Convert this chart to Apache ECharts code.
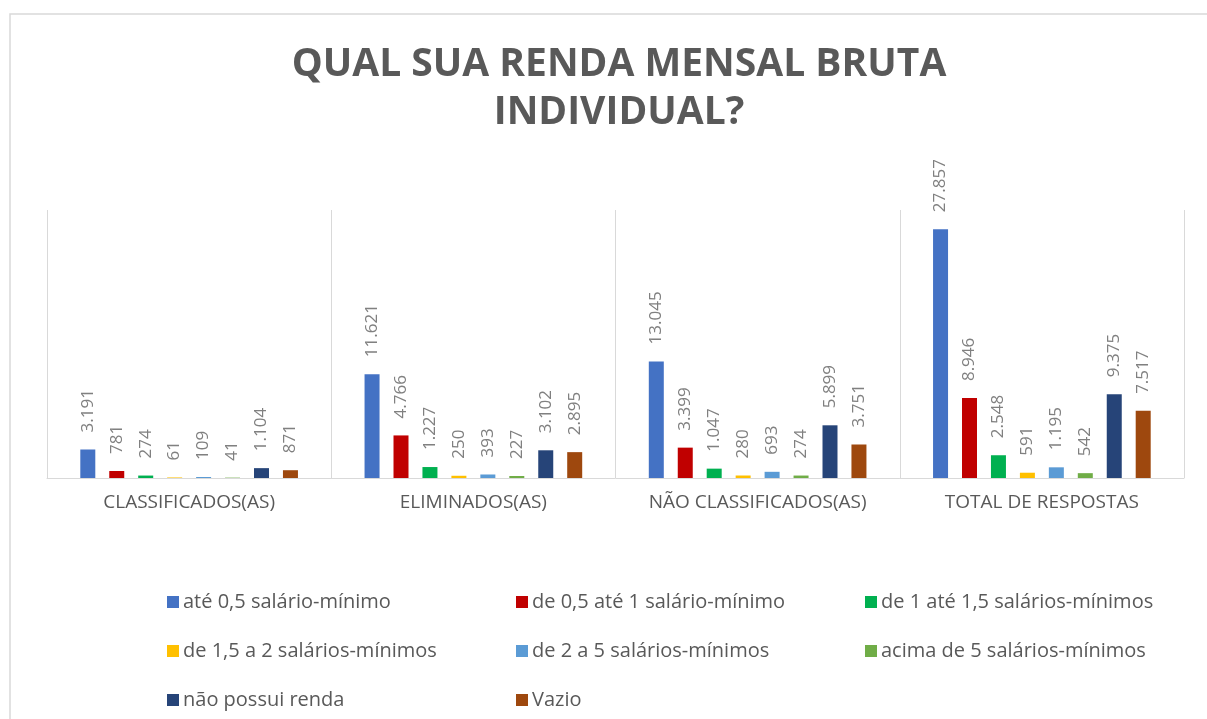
<!DOCTYPE html>
<html lang="pt">
	<head>
		<meta charset="UTF-8" />
		<title>Renda mensal bruta</title>
		<script src="https://cdn.jsdelivr.net/npm/echarts@6.0.0/dist/echarts.min.js"></script>
		<style>
			html, body { margin: 0; padding: 0; background: #fff; }
		</style>
	</head>
	<body>
		<div id="main" style="width: 1207px; height: 719px"></div>
		<script type="text/javascript">
			// categories and values
			const categories = ["CLASSIFICADOS(AS)", "ELIMINADOS(AS)", "NÃO CLASSIFICADOS(AS)", "TOTAL DE RESPOSTAS"];
			const seriesNames = [
				"até 0,5 salário-mínimo",
				"de 0,5 até 1 salário-mínimo",
				"de 1 até 1,5 salários-mínimos",
				"de 1,5 a 2 salários-mínimos",
				"de 2 a 5 salários-mínimos",
				"acima de 5 salários-mínimos",
				"não possui renda",
				"Vazio",
			];
			const ate05 = [3191, 11621, 13045, 27857];
			const de05a1 = [781, 4766, 3399, 8946];
			const de1a15 = [274, 1227, 1047, 2548];
			const de15a2 = [61, 250, 280, 591];
			const de2a5 = [109, 393, 693, 1195];
			const acima5 = [41, 227, 274, 542];
			const semRenda = [1104, 3102, 5899, 9375];
			const vazio = [871, 2895, 3751, 7517];
			const seriesData = [ate05, de05a1, de1a15, de15a2, de2a5, acima5, semRenda, vazio];
			const colors = ["#4472C4", "#C00000", "#00B050", "#FFC000", "#5B9BD5", "#70AD47", "#264478", "#9E480E"];

			// brazilian thousands separator
			const fmt = (v) => String(v).replace(/\B(?=(\d{3})+(?!\d))/g, ".");

			let myChart = echarts.init(document.getElementById("main"));
			let options = {
				color: colors,
				animation: false,
				textStyle: { fontFamily: "Open Sans" },
				title: {
					text: "QUAL SUA RENDA MENSAL BRUTA\nINDIVIDUAL?",
					left: 614,
					top: 36,
					textAlign: "center",
					textStyle: { fontSize: 39, fontWeight: "bold", color: "#595959", lineHeight: 48, fontFamily: "Open Sans", align: "center" },
				},
				graphic: [
					{
						type: "rect",
						shape: { x: 10, y: 14, width: 1400, height: 900 },
						style: { fill: "none", stroke: "#d9d9d9", lineWidth: 1.5 },
						silent: true,
					},
				],
				legend: {
					left: 167,
					top: 585,
					width: 1040,
					padding: 0,
					itemWidth: 12,
					itemHeight: 12,
					itemGap: 15,
					icon: "rect",
					data: seriesNames,
					textStyle: { fontSize: 20, color: "#595959", width: 318, lineHeight: 34, padding: [0, 0, 0, -1] },
				},
				grid: { left: 47, right: 23, top: 210, bottom: 241, containLabel: false },
				xAxis: {
					type: "category",
					data: categories,
					axisLine: { lineStyle: { color: "#d9d9d9" } },
					axisTick: { show: false },
					splitLine: { show: true, lineStyle: { color: "#d9d9d9" } },
					axisLabel: { color: "#595959", fontSize: 19, margin: 15 },
				},
				yAxis: {
					type: "value",
					min: 0,
					max: 30000,
					show: false,
					splitLine: { show: false },
				},
				series: seriesNames.map((name, i) => ({
					name: name,
					type: "bar",
					data: seriesData[i],
					barWidth: 15,
					barGap: "93%",
					label: {
						show: true,
						position: "top",
						rotate: 90,
						align: "left",
						verticalAlign: "middle",
						distance: 17,
						color: "#808080",
						fontSize: 17,
						formatter: (p) => fmt(p.value),
					},
				})),
			};
			myChart.setOption(options);
		</script>
	</body>
</html>
